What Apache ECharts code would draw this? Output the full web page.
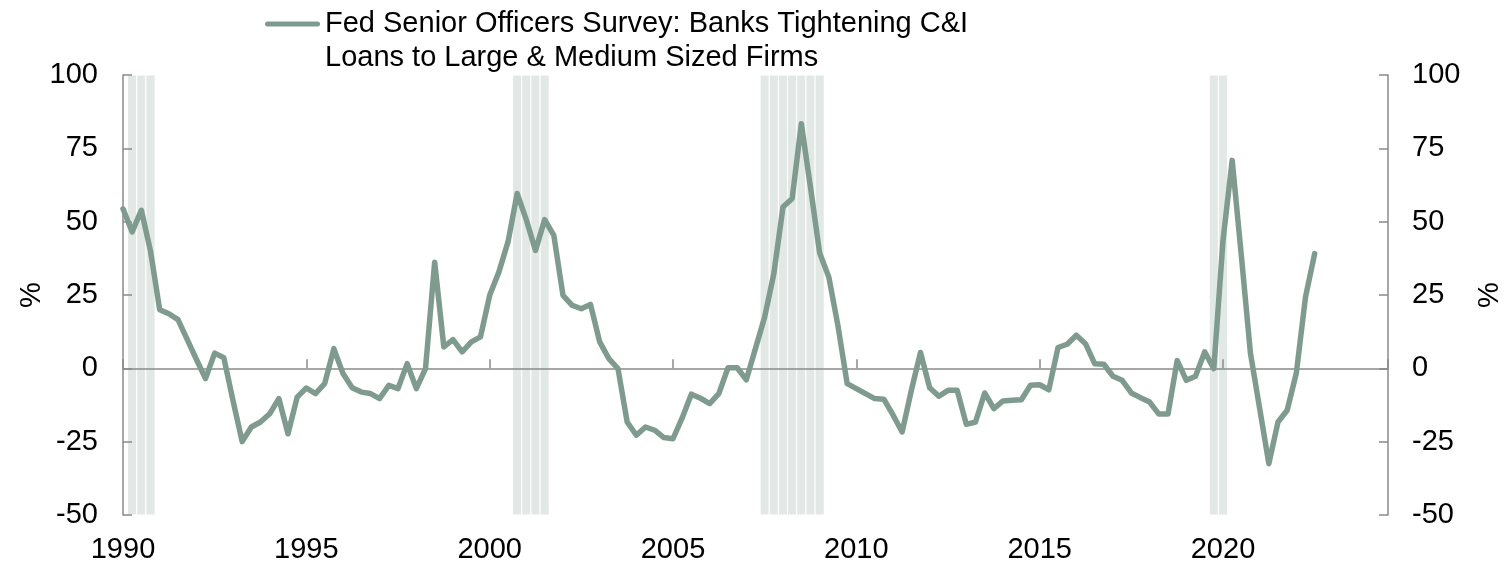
<!DOCTYPE html>
<html>
<head>
<meta charset="utf-8">
<title>Fed Senior Officers Survey</title>
<script src="https://cdn.jsdelivr.net/npm/echarts@6/dist/echarts.min.js"></script>
<style>
  html, body { margin: 0; padding: 0; background: #ffffff; }
  #chart { width: 1507px; height: 564px; }
</style>
</head>
<body>
<div id="chart"></div>
<script>
// Net % of banks tightening C&I loan standards, quarterly from 1990 Q1
const seriesName = 'Fed Senior Officers Survey: Banks Tightening C&I\nLoans to Large & Medium Sized Firms';
const firstYear = 1990;
const tighteningPct = [
  54.4, 46.5, 53.9, 40.0, 20.0, 18.6, 16.6, 9.9, 3.1, -3.5,
  5.2, 3.6, -11.0, -25.0, -20.0, -18.3, -15.5, -10.3, -22.3, -9.8,
  -6.7, -8.6, -5.2, 6.7, -1.8, -6.6, -8.1, -8.6, -10.3, -5.8,
  -6.9, 1.6, -6.9, -0.1, 36.2, 7.3, 9.8, 5.6, 9.0, 10.7,
  24.9, 32.8, 43.1, 59.6, 50.6, 40.2, 50.7, 45.3, 24.9, 21.5,
  20.3, 21.8, 9.0, 3.3, -0.1, -18.3, -22.8, -20.0, -21.1, -23.6,
  -24.0, -16.9, -8.8, -10.2, -12.0, -8.6, 0.2, 0.2, -3.9, 6.8,
  17.5, 32.3, 55.0, 57.9, 83.4, 61.7, 39.3, 31.1, 14.4, -5.2,
  -6.9, -8.6, -10.3, -10.5, -15.9, -21.7, -7.5, 5.4, -6.6, -9.5,
  -7.5, -7.5, -19.1, -18.3, -8.4, -13.7, -11.1, -10.9, -10.7, -5.8,
  -5.6, -7.3, 7.1, 8.2, 11.3, 8.4, 1.6, 1.4, -2.7, -4.1,
  -8.4, -10.0, -11.5, -15.6, -15.6, 2.7, -4.1, -2.7, 5.6, -0.1,
  43.6, 70.9, 38.5, 5.0, -13.7, -32.5, -18.3, -14.3, -1.6, 24.3,
  39.1
];

// Recession quarters (shaded), as fractional years
const recessionQuarters = [
  1990.25, 1990.5, 1990.75,
  2000.75, 2001.0, 2001.25, 2001.5,
  2007.5, 2007.75, 2008.0, 2008.25, 2008.5, 2008.75, 2009.0,
  2019.75, 2020.0
];

const xMin = 1990, xMax = 2024.5, xStep = 5;
const yMin = -50, yMax = 100, yStep = 25;

const lineColor = '#7f9b8f';
const shadeColor = '#e2e8e5';
const axisColor = '#8a8a8a';
const fontFamily = '"Liberation Sans", Arial, sans-serif';
const fontSize = 29;

const points = tighteningPct.map((v, i) => [firstYear + i / 4, v]);
const shadeAreas = recessionQuarters.map(q => [
  { xAxis: q - 0.125 },
  { xAxis: q + 0.125 }
]);

// Legend key: a rounded bar sitting level with the first text line
const legendIcon = 'path://M2.5,0H52.5A2.5,2.5 0 0 1 52.5,5H2.5A2.5,2.5 0 0 1 2.5,0Z' +
  'M0,38.95H0.05V39H0Z';

const chart = echarts.init(document.getElementById('chart'), null, { renderer: 'canvas' });

const yAxisCommon = {
  type: 'value',
  min: yMin,
  max: yMax,
  interval: yStep,
  z: 4,
  splitLine: { show: false },
  axisLine: { show: true, lineStyle: { color: axisColor, width: 1.5 } },
  axisTick: { show: true, inside: true, length: 9, lineStyle: { color: axisColor, width: 1.5 } },
  axisLabel: { color: '#000', fontSize: fontSize, fontFamily: fontFamily, margin: 25 },
  name: '%',
  nameLocation: 'middle',
  nameRotate: 90,
  nameMoveOverlap: false,
  nameTextStyle: { color: '#000', fontSize: fontSize, fontFamily: fontFamily }
};

chart.setOption({
  animation: false,
  backgroundColor: '#ffffff',
  textStyle: { fontFamily: fontFamily },
  grid: {
    left: 123, right: 119, top: 75, bottom: 49,
    containLabel: false,
    outerBoundsMode: 'none'
  },
  legend: {
    show: true,
    left: 265,
    top: 7,
    padding: 0,
    itemWidth: 55,
    itemHeight: 39,
    icon: legendIcon,
    selectedMode: false,
    data: [{ name: seriesName, itemStyle: { color: lineColor } }],
    textStyle: {
      color: '#000',
      fontSize: fontSize,
      fontFamily: fontFamily,
      lineHeight: 34
    }
  },
  xAxis: [
    {
      // year labels along the bottom edge
      type: 'value',
      min: xMin,
      max: xMax,
      interval: xStep,
      position: 'bottom',
      axisLine: { show: false, onZero: false },
      axisTick: { show: false },
      splitLine: { show: false },
      axisLabel: {
        color: '#000',
        fontSize: fontSize,
        fontFamily: fontFamily,
        margin: 20,
        showMaxLabel: false,
        formatter: v => String(v)
      }
    },
    {
      // zero line with upward ticks, drawn above the shading
      type: 'value',
      min: xMin,
      max: xMax,
      interval: xStep,
      position: 'bottom',
      z: 4,
      axisLine: { show: true, onZero: true, lineStyle: { color: axisColor, width: 1.5 } },
      axisTick: { show: true, inside: true, length: 9, lineStyle: { color: axisColor, width: 1.5 } },
      axisLabel: { show: false },
      splitLine: { show: false }
    }
  ],
  yAxis: [
    Object.assign({}, yAxisCommon, {
      position: 'left',
      nameGap: 77
    }),
    Object.assign({}, yAxisCommon, {
      position: 'right',
      nameGap: 87,
      axisLabel: Object.assign({}, yAxisCommon.axisLabel, { margin: 24 })
    })
  ],
  series: [
    {
      // recession shading
      name: 'recessions',
      type: 'line',
      xAxisIndex: 0,
      yAxisIndex: 0,
      data: [],
      z: 1,
      silent: true,
      markArea: {
        silent: true,
        itemStyle: { color: shadeColor, borderColor: '#ffffff', borderWidth: 1 },
        data: shadeAreas
      }
    },
    {
      name: seriesName,
      type: 'line',
      xAxisIndex: 0,
      yAxisIndex: 0,
      data: points,
      showSymbol: false,
      symbol: 'none',
      lineStyle: { color: lineColor, width: 5.5, join: 'round', cap: 'round' },
      itemStyle: { color: lineColor },
      z: 6
    }
  ]
});
</script>
</body>
</html>
